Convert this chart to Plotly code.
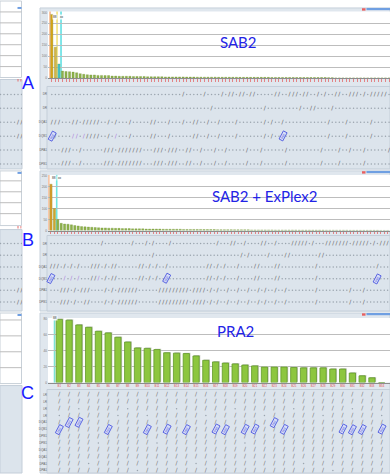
import plotly.graph_objects as go

W, H = 390, 475


def fx(x):
    return x / W


def fy(y):
    return 1 - y / H


# ---------------- data ----------------
PANEL_LABELS = ["A", "B", "C"]
TITLES = ["SAB2", "SAB2 + ExPlex2", "PRA2"]

A_VALUES = [291, 141, 64, 32, 30, 29, 27, 24, 20, 17,
            15, 14, 14, 12, 12, 11, 11, 9, 9, 8,
            8, 8, 8, 7, 7, 7, 7, 6, 6, 6,
            6, 6, 5, 5, 5, 5, 5, 5, 4.5, 4.5,
            4.5, 4, 4, 4, 4, 4, 4, 3.5, 3.5, 3.5,
            3.5, 3.5, 3.5, 3, 3, 3, 3, 3, 3, 3,
            3, 3, 2.5, 2.5, 2.5, 2.5, 2.5, 2.5, 2.5, 2,
            2, 2, 2, 2, 2, 2, 2, 2, 1.5, 1.5,
            0, 0, 0, 0, 0, 0, 0, 0, 0, 0,
            0, 0, 0, 0, 0, 0]
A_YTICKS = [0, 50, 100, 150, 200, 250, 300]
A_ROWS = ["DR", "DR", "DQA1", "DQB1", "DPA1", "DPB1"]
A_SLASH = [
    [37, 43, 48, 50, 51, 53, 54, 56, 57, 63, 64, 67, 68, 69, 71, 72, 75, 77, 80, 81, 84, 85, 86, 88, 90, 91, 92, 93, 94],
    [45, 60, 70, 73, 74, 79],
    [0, 1, 2, 6, 7, 9, 10, 11, 12, 13, 16, 18, 22, 28, 29, 33, 37, 40, 41, 44, 47, 52, 60, 62, 65, 78, 83, 90],
    [1, 10, 11, 12, 13, 16, 22, 28, 29, 33, 40, 41, 44, 47, 52, 60, 62, 78, 83, 90],
    [3, 4, 5, 8, 15, 16, 17, 19, 20, 21, 22, 23, 24, 25, 29, 30, 31, 33, 34, 35, 38, 39, 42, 46, 49, 55, 59, 66, 76, 81, 84, 88, 95],
    [3, 4, 5, 8, 15, 16, 17, 19, 20, 21, 22, 23, 24, 25, 29, 30, 31, 33, 34, 35, 38, 39, 42, 46, 49, 55, 59, 66, 76, 81, 88],
]
A_PURPLE = [(3, 6), (3, 7), (3, 9), (3, 18)]
A_BOXES = [(3, 0), (3, 65)]
A_CUTOFFS = [(-0.5, "#f5b58c"), (1.48, "#f2e27c"), (2.6, "#62dfe2")]

B_VALUES = [212, 101, 51, 33, 30, 29, 26, 23, 21, 18,
            17, 16, 15, 14, 13, 12, 12, 11, 11, 10,
            10, 9, 9, 9, 8, 8, 8, 8, 7, 7,
            7, 7, 7, 6, 6, 6, 6, 6, 6, 5,
            5, 5, 5, 5, 5, 4.5, 4.5, 4.5, 4.5, 4,
            4, 4, 4, 4, 3.5, 3.5, 3.5, 3.5, 3.5, 3,
            3, 3, 3, 3, 3, 3, 2.5, 2.5, 2.5, 2.5,
            2.5, 2.5, 2.5, 2, 2, 2, 2, 2, 2, 2,
            2, 1.5, 1.5, 1.5, 1.5, 1.5, 1.5, 1.5, 1, 1,
            1, 1, 1, 1, 1, 1, 1, 0.5, 0.5, 0.5]
B_YTICKS = [0, 50, 100, 150, 200, 250]
B_ROWS = ["DR", "DR", "DQA1", "DQB1", "DPA1", "DPB1"]
B_SLASH = [
    [15, 24, 28, 30, 35, 49, 53, 54, 57, 62, 63, 66, 71, 72, 73, 74, 75, 77, 81, 82, 83, 84, 85, 86, 87, 89, 90, 91, 92, 93, 95, 97, 98, 99],
    [30, 56, 58, 64, 69, 70, 79, 80],
    [0, 1, 2, 4, 6, 8, 12, 13, 14, 16, 18, 19, 26, 27, 29, 31, 34, 46, 47, 49, 51, 55, 60, 61, 66, 67, 78, 96],
    [12, 13, 16, 18, 19, 26, 27, 29, 31, 46, 47, 49, 51, 55, 60, 61, 66, 67, 78],
    [3, 4, 5, 7, 9, 10, 11, 16, 18, 20, 21, 22, 23, 24, 25, 32, 33, 34, 35, 36, 37, 38, 39, 40, 42, 43, 44, 45, 47, 49, 52, 55, 58, 61, 63, 66, 69, 78, 88, 92],
    [3, 4, 5, 7, 10, 11, 16, 18, 20, 21, 22, 23, 24, 25, 32, 33, 34, 35, 36, 37, 38, 39, 40, 42, 43, 44, 45, 47, 49, 52, 55, 58, 61, 63, 66, 69, 78, 88, 92],
]
B_PURPLE = [(3, 4), (3, 6), (3, 8), (3, 14)]
B_BOXES = [(3, 0), (3, 34), (3, 96)]
B_CUTOFFS = [(-0.62, "#f7c3a2"), (1.68, "#6fe6df")]

C_VALUES = [79.5, 78.5, 72.5, 69.5, 64.5, 62.5, 57, 51, 43.5, 43,
            41.5, 37.5, 37, 36.5, 33.5, 28, 26, 24.5, 23.5, 22,
            21, 19.5, 19.5, 19.5, 19, 18.5, 18.5, 18.5, 17, 17,
            12, 8.5, 6, 0]
C_TICKS = ["B%d" % (i + 1) for i in range(len(C_VALUES))]
C_YTICKS = [0, 20, 40, 60, 80]
C_ROWS = ["LR", "LR", "LR", "LR", "DQA1", "DQB1", "DPB1", "DPB1",
          "DQA1", "DQA1", "DPA1", "DPA1"]
C_BOXES = [(5, 0), (4, 1), (4, 2), (5, 5), (5, 9), (5, 11), (5, 13), (5, 16),
           (5, 17), (5, 19), (5, 20), (4, 22), (5, 23), (5, 29), (5, 30),
           (5, 31), (5, 33)]
C_GAPS = [(2, 2), (3, 0), (3, 6), (2, 7), (3, 9), (2, 12), (3, 15), (2, 18),
          (3, 21), (2, 24), (3, 27), (2, 30), (3, 33), (7, 4), (7, 10),
          (7, 19), (10, 3), (10, 14), (10, 25), (11, 8), (11, 28)]
C_CUTOFFS = [(-0.49, "#7de2d6")]

LEFT_A_SLASH = [[], [], [5, 6], [5, 6], [], []]
LEFT_B_SLASH = [[], [], [], [], [5, 6], [5, 6]]
LEFT_COLS = 7

# ---------------- styling ----------------
FRAME = "#e0e7ee"
FRAME_LINE = "#c6d0da"
LOWER = "#dce4ec"
GREEN = "#8eb24b"
GREEN_EDGE = "#6d8f33"
BLUE_TXT = "#2323e6"

fig = go.Figure()
shapes = []
annotations = []
layout_axes = {}


def rect(x0, y0, x1, y1, fill, line=None, lw=0):
    shapes.append(dict(type="rect", xref="paper", yref="paper",
                       x0=fx(x0), x1=fx(x1), y0=fy(y1), y1=fy(y0),
                       fillcolor=fill, line=dict(color=line or fill, width=lw),
                       layer="below"))


def hline(x0, x1, y, color, w=1):
    shapes.append(dict(type="line", xref="paper", yref="paper",
                       x0=fx(x0), x1=fx(x1), y0=fy(y), y1=fy(y),
                       line=dict(color=color, width=w), layer="below"))


panels = [
    dict(frame=(7, 169), bar=(10.5, 77.5), low=(86, 169), xr=(-1.07, 95.27),
         yr=304.5, lowr=(5.357, -0.571), values=A_VALUES, ticks=None,
         yt=A_YTICKS, rows=A_ROWS, slash=A_SLASH, purple=A_PURPLE,
         boxes=A_BOXES, cut=A_CUTOFFS, width=0.62,
         colors=["#dba515", "#d9b548", "#3fc5d5"] + [GREEN] * (len(A_VALUES) - 3),
         title=(238.5, 41), label=(28, 83), tag=[(52, 13.3, "88"), (58.5, 13.3, "xx")]),
    dict(frame=(171, 312), bar=(175, 231), low=(236, 312), xr=(-0.88, 99.7),
         yr=254.5, lowr=(5.763, -0.678), values=B_VALUES, ticks=None,
         yt=B_YTICKS, rows=B_ROWS, slash=B_SLASH, purple=B_PURPLE,
         boxes=B_BOXES, cut=B_CUTOFFS, width=0.65,
         colors=["#dc9d2a", "#cfa62e"] + [GREEN] * (len(B_VALUES) - 2),
         title=(264, 196), label=(27.5, 241), tag=[(51.3, 178, "88"), (57, 178, "xx")]),
    dict(frame=(314, 475), bar=(319, 384), low=(391, 475), xr=(-1.157, 33.85),
         yr=81.25, lowr=(11.38, -0.797), values=C_VALUES, ticks=C_TICKS,
         yt=C_YTICKS, rows=C_ROWS, slash=None, purple=[], boxes=C_BOXES,
         cut=C_CUTOFFS, width=0.64,
         colors=["#8dc63f"] * len(C_VALUES),
         title=(235.5, 332.5), label=(27.7, 394), tag=[(52, 322.5, "88")]),
]


def axname(a):
    return "xaxis" + a[1:] if a.startswith("x") else "yaxis" + a[1:]


for p_i, p in enumerate(panels):
    xb = "x" if p_i == 0 else "x%d" % (2 * p_i + 1)
    yb = "y" if p_i == 0 else "y%d" % (2 * p_i + 1)
    xl = "x%d" % (2 * p_i + 2)
    yl = "y%d" % (2 * p_i + 2)
    ftop, fbot = p["frame"]
    btop, bbot = p["bar"]
    ltop, lbot = p["low"]

    rect(40, ftop, 390, fbot, FRAME, FRAME_LINE, 1)
    rect(48, btop, 390, bbot, "white")
    rect(47, ltop, 390, lbot, LOWER, "#c4ced9", 1)
    rect(362, ftop + 0.3, 365.5, ftop + 2.7, "#e86060")
    rect(366.5, ftop, 390, ftop + 2.2, "#6f9fe2")

    xdict = dict(domain=[fx(48), fx(390)], range=list(p["xr"]), anchor=yb,
                 tickmode="array", tickvals=list(range(len(p["values"]))),
                 showgrid=False, zeroline=False, showline=True,
                 linecolor="#8c8c8c", linewidth=1, fixedrange=True)
    if p["ticks"] is None:
        xdict.update(showticklabels=False, ticks="outside", ticklen=2.5,
                     tickwidth=0.8, tickcolor="#e46a6a")
    else:
        xdict.update(ticktext=p["ticks"], tickangle=0, ticks="",
                     tickfont=dict(size=2.8, color="#e04848"))
    layout_axes[axname(xb)] = xdict
    layout_axes[axname(yb)] = dict(
        domain=[fy(bbot), fy(btop)], range=[0, p["yr"]], anchor=xb,
        tickmode="array", tickvals=p["yt"], tickfont=dict(size=3.2, color="#777"),
        showgrid=True, gridcolor="#bdbdbd", gridwidth=1, zeroline=False,
        ticks="", fixedrange=True)
    layout_axes[axname(xl)] = dict(
        domain=[fx(48), fx(390)], range=list(p["xr"]), anchor=yl,
        showticklabels=False, showgrid=False, zeroline=False, ticks="",
        fixedrange=True)
    layout_axes[axname(yl)] = dict(
        domain=[fy(lbot), fy(ltop)], range=list(p["lowr"]), anchor=xl,
        tickmode="array", tickvals=list(range(len(p["rows"]))),
        ticktext=p["rows"], tickfont=dict(size=3, color="#666"),
        showgrid=False, zeroline=False, ticks="", fixedrange=True)

    for xc, col in p["cut"]:
        shapes.append(dict(type="line", xref=xb, yref=yb + " domain",
                           x0=xc, x1=xc, y0=0, y1=1,
                           line=dict(color=col, width=1.6), layer="below"))

    xs = list(range(len(p["values"])))
    if p_i == 2:
        fig.add_trace(go.Bar(x=xs, y=p["values"], base=1.1, width=p["width"],
                             offset=-p["width"] / 2 + 0.11,
                             marker=dict(color="#c9cbc6", line=dict(width=0)),
                             xaxis=xb, yaxis=yb, hoverinfo="skip"))
        fig.add_trace(go.Bar(x=xs, y=p["values"], width=p["width"],
                             offset=-p["width"] / 2,
                             marker=dict(color=p["colors"],
                                         line=dict(color="#62992a", width=0.8)),
                             xaxis=xb, yaxis=yb))
    else:
        fig.add_trace(go.Bar(x=xs, y=p["values"], width=p["width"],
                             marker=dict(color=p["colors"],
                                         line=dict(color=GREEN_EDGE, width=0.3)),
                             xaxis=xb, yaxis=yb))

    ncols = len(p["values"])
    nrows = len(p["rows"])
    if p["slash"] is not None:
        occupied = set()
        sx, sy = [], []
        for r, cols in enumerate(p["slash"]):
            for c in cols:
                sx.append(c)
                sy.append(r)
                occupied.add((r, c))
        for r, c in p["purple"]:
            occupied.add((r, c))
        for r, c in p["boxes"]:
            occupied.add((r, c))
        dx = [c for r in range(nrows) for c in range(ncols) if (r, c) not in occupied]
        dy = [r for r in range(nrows) for c in range(ncols) if (r, c) not in occupied]
        fig.add_trace(go.Scatter(x=dx, y=dy, mode="markers",
                                 marker=dict(size=1.5, color="#9aa4ae"),
                                 xaxis=xl, yaxis=yl, hoverinfo="skip"))
        fig.add_trace(go.Scatter(x=sx, y=sy, mode="text", text=["/"] * len(sx),
                                 textfont=dict(size=6, color="#5a5a5a",
                                               family="DejaVu Sans"),
                                 xaxis=xl, yaxis=yl, hoverinfo="skip"))
        fig.add_trace(go.Scatter(x=[c for r, c in p["purple"]],
                                 y=[r for r, c in p["purple"]], mode="text",
                                 text=["/"] * len(p["purple"]),
                                 textfont=dict(size=6, color="#a676d8",
                                               family="DejaVu Sans"),
                                 xaxis=xl, yaxis=yl, hoverinfo="skip"))
    else:
        skip = set(C_GAPS) | set(C_BOXES)
        mx = [c for r in range(nrows) for c in range(ncols) if (r, c) not in skip]
        my = [r for r in range(nrows) for c in range(ncols) if (r, c) not in skip]
        fig.add_trace(go.Scatter(x=mx, y=my, mode="text", text=["/"] * len(mx),
                                 textfont=dict(size=6, color="#6e6e6e",
                                               family="DejaVu Sans"),
                                 xaxis=xl, yaxis=yl, hoverinfo="skip"))
        fig.add_trace(go.Scatter(x=[c for r, c in C_GAPS], y=[r for r, c in C_GAPS],
                                 mode="markers", marker=dict(size=1.5, color="#9aa4ae"),
                                 xaxis=xl, yaxis=yl, hoverinfo="skip"))

    for r, c in p["boxes"]:
        annotations.append(dict(x=c, y=r, xref=xl, yref=yl, text="DQ2",
                                showarrow=False, textangle=-62,
                                width=8, height=3.2,
                                font=dict(size=2.6, color="#3b46d9"),
                                bordercolor="#4a55e0", borderwidth=0.8,
                                borderpad=0, bgcolor="rgba(210,215,255,0.55)"))

    for tx, ty, tt in p["tag"]:
        annotations.append(dict(x=fx(tx), y=fy(ty), xref="paper", yref="paper",
                                text=tt, showarrow=False,
                                font=dict(size=3.2, color="#333"),
                                bgcolor="rgba(255,255,255,0.85)", borderpad=0))

    annotations.append(dict(x=fx(p["title"][0]), y=fy(p["title"][1]),
                            xref="paper", yref="paper", text=TITLES[p_i],
                            showarrow=False, xanchor="center", yanchor="middle",
                            font=dict(size=15, color=BLUE_TXT, family="Lato")))
    annotations.append(dict(x=fx(p["label"][0]), y=fy(p["label"][1]),
                            xref="paper", yref="paper", text=PANEL_LABELS[p_i],
                            showarrow=False, xanchor="center", yanchor="middle",
                            font=dict(size=18, color="#1a1aff",
                                      family="Liberation Sans")))

# ---------------- left neighbour strip ----------------
left_parts = [
    dict(white=(0, 77), grid=[11, 22, 33, 44, 55, 66], low=(79, 169),
         icon=6, slash=LEFT_A_SLASH, rows_px=(94, 164), red=79.5),
    dict(white=(171, 226), grid=[181, 192, 203, 214], low=(230, 312),
         icon=172, slash=LEFT_B_SLASH, rows_px=(244, 303), red=227.5),
    dict(white=(314, 385), grid=[321, 337, 353, 369], low=(387, 475),
         icon=315, slash=None, rows_px=None, red=None),
]
ax_i = 7
for lp in left_parts:
    rect(0, lp["white"][0], 21.5, lp["white"][1], "white", "#c8d0d8", 1)
    for g in lp["grid"]:
        hline(0, 21.5, g, "#bdbdbd")
    rect(0, lp["low"][0], 22, lp["low"][1], LOWER, "#c4ced9", 1)
    rect(17.5, lp["icon"], 21.5, lp["icon"] + 2, "#6f9fe2")
    if lp["red"] is not None:
        rect(17.5, lp["red"] - 1, 18.5, lp["red"] + 1.5, "#e46a6a")
        rect(20.5, lp["red"] - 1, 21.3, lp["red"] + 1.5, "#e46a6a")
    if lp["slash"] is None:
        continue
    xa, ya = "x%d" % ax_i, "y%d" % ax_i
    nrows = len(lp["slash"])
    r0, r1 = lp["rows_px"]
    step = (r1 - r0) / (nrows - 1)
    top = lp["low"][0]
    bot = lp["low"][1]
    layout_axes["xaxis%d" % ax_i] = dict(domain=[0, fx(22)], range=[-0.143, 6.143],
                                         anchor=ya, visible=False, fixedrange=True)
    layout_axes["yaxis%d" % ax_i] = dict(domain=[fy(bot), fy(top)],
                                         range=[(bot - r0) / step, (top - r0) / step],
                                         anchor=xa, visible=False, fixedrange=True)
    occ = {(r, c) for r, cols in enumerate(lp["slash"]) for c in cols}
    fig.add_trace(go.Scatter(
        x=[c for r in range(nrows) for c in range(LEFT_COLS) if (r, c) not in occ],
        y=[r for r in range(nrows) for c in range(LEFT_COLS) if (r, c) not in occ],
        mode="markers", marker=dict(size=1.5, color="#9aa4ae"),
        xaxis=xa, yaxis=ya, hoverinfo="skip"))
    fig.add_trace(go.Scatter(
        x=[c for r, cols in enumerate(lp["slash"]) for c in cols],
        y=[r for r, cols in enumerate(lp["slash"]) for c in cols],
        mode="text", text=["/"] * len(occ),
        textfont=dict(size=6, color="#5a5a5a", family="DejaVu Sans"),
        xaxis=xa, yaxis=ya, hoverinfo="skip"))
    ax_i += 1

fig.update_layout(
    width=W, height=H, autosize=False,
    margin=dict(l=0, r=0, t=0, b=0, pad=0),
    paper_bgcolor="white", plot_bgcolor="rgba(0,0,0,0)",
    showlegend=False, barmode="overlay",
    font=dict(family="Liberation Sans"),
    shapes=shapes, annotations=annotations,
    **layout_axes,
)

fig.write_html("out.html",
               config={"displayModeBar": False, "staticPlot": True},
               post_script="document.body.style.margin='0px';"
                           "document.body.style.overflow='hidden';")
